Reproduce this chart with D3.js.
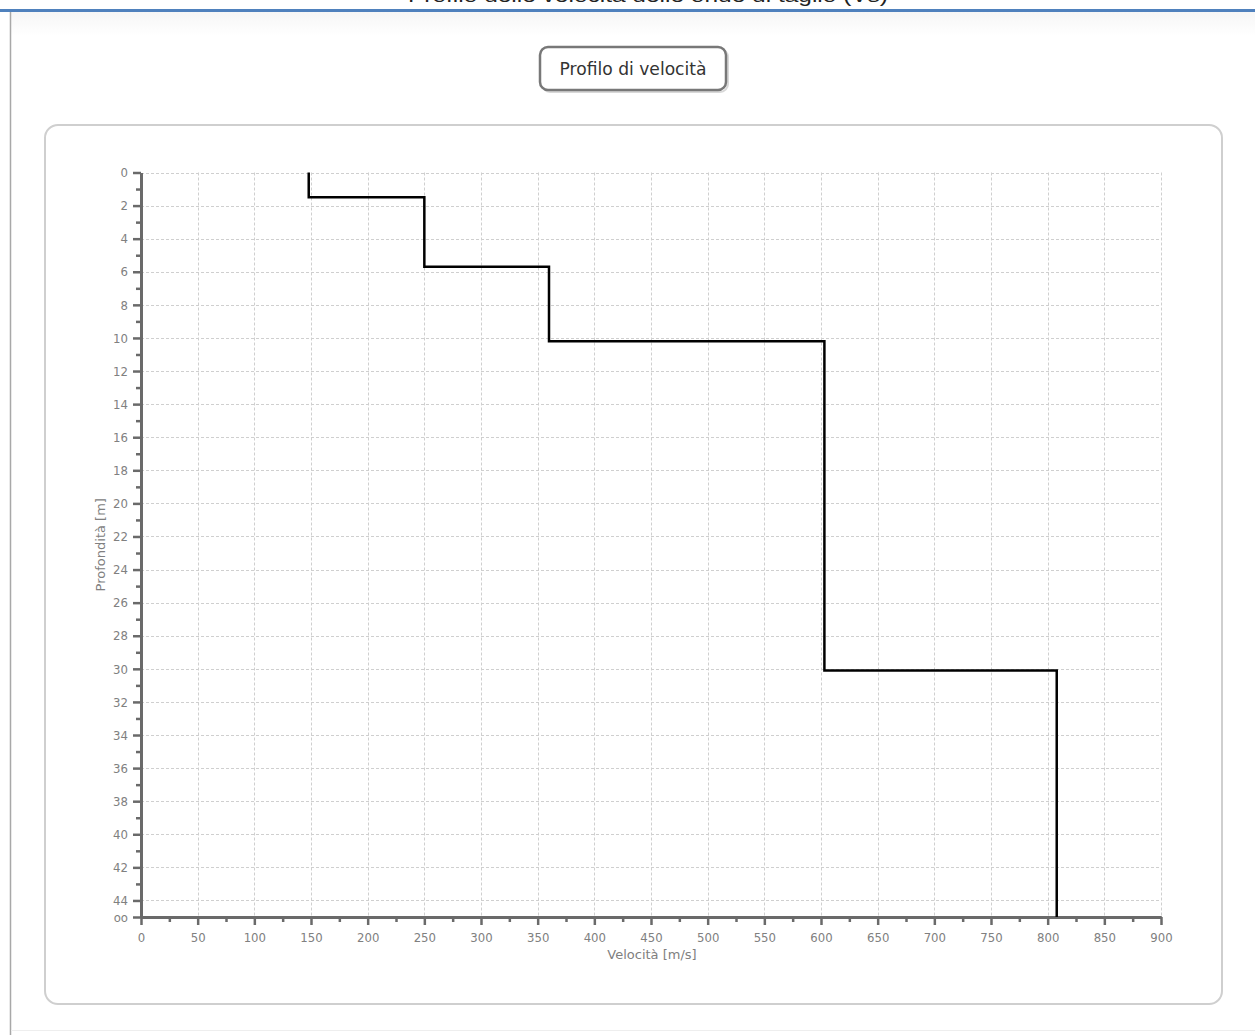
<!DOCTYPE html>
<html>
<head>
<meta charset="utf-8">
<script src="https://cdn.jsdelivr.net/npm/d3@7"></script>
<style>
	html, body { margin: 0; padding: 0; background: #fff; }
	#chart svg { display: block; }
</style>
</head>
<body>
<div id="chart"></div>
<script>
// velocity profile (Vs) - one layer per entry
var velocities  = [148, 250, 360, 603, 808];
var layerTops   = [0, 1.5, 5.7, 10.2, 30.1];
var layerBottom = [1.5, 5.7, 10.2, 30.1, 45];

var xTicks = [0,50,100,150,200,250,300,350,400,450,500,550,600,650,700,750,800,850,900];
var xMinor = [25,75,125,175,225,275,325,375,425,475,525,575,625,675,725,775,825,875];
var yTicks = [0,2,4,6,8,10,12,14,16,18,20,22,24,26,28,30,32,34,36,38,40,42,44];
var yMinor = [1,3,5,7,9,11,13,15,17,19,21,23,25,27,29,31,33,35,37,39,41,43];
var yEndLabel = "oo";

var pageTitle = "Profilo delle velocità delle onde di taglio (Vs)";
var chartTitle = "Profilo di velocità";
var xTitle = "Velocità [m/s]";
var yTitle = "Profondità [m]";

var W = 1255, H = 1035;
var plot = {left: 141, right: 1161, top: 172.5, bottom: 917};

var svg = d3.select("#chart").append("svg")
	.attr("width", W)
	.attr("height", H);

////////////////////////////////////////////////////////////
//////////////////// Page frame ////////////////////////////
////////////////////////////////////////////////////////////

var defs = svg.append("defs");
var fade = defs.append("linearGradient").attr("id", "topFade")
	.attr("x1", 0).attr("y1", 0).attr("x2", 0).attr("y2", 1);
fade.append("stop").attr("offset", "0%").attr("stop-color", "#f6f6f6");
fade.append("stop").attr("offset", "100%").attr("stop-color", "#ffffff");

svg.append("rect")
	.attr("x", 11).attr("y", 12).attr("width", W - 11).attr("height", 24)
	.style("fill", "url(#topFade)");

// heading of the page, cut off by the top edge
svg.append("text")
	.attr("x", 648).attr("y", 2)
	.attr("text-anchor", "middle")
	.attr("textLength", 480)
	.attr("lengthAdjust", "spacingAndGlyphs")
	.style("font-family", "'Liberation Sans', Arial, sans-serif")
	.style("font-size", "18px")
	.style("fill", "#222")
	.text(pageTitle);

svg.append("rect")
	.attr("x", 0).attr("y", 9).attr("width", W).attr("height", 3)
	.style("fill", "#4f81bd");

svg.append("line")
	.attr("x1", 10.5).attr("x2", 10.5).attr("y1", 12).attr("y2", H)
	.style("stroke", "#a8a8a8").style("stroke-width", 1.5);

svg.append("line")
	.attr("x1", 11).attr("x2", W).attr("y1", 1030.5).attr("y2", 1030.5)
	.style("stroke", "#eeeeee").style("stroke-width", 1);

////////////////////////////////////////////////////////////
//////////////////// Title box /////////////////////////////
////////////////////////////////////////////////////////////

svg.append("rect")
	.attr("x", 542).attr("y", 49).attr("width", 186).attr("height", 43)
	.attr("rx", 8).attr("ry", 8)
	.style("fill", "none").style("stroke", "#d8d8d8").style("stroke-width", 2);

svg.append("rect")
	.attr("x", 540).attr("y", 47).attr("width", 186).attr("height", 43)
	.attr("rx", 8).attr("ry", 8)
	.style("fill", "#fff").style("stroke", "#787878").style("stroke-width", 2.5);

svg.append("text")
	.attr("x", 633).attr("y", 75)
	.attr("text-anchor", "middle")
	.attr("textLength", 147)
	.attr("lengthAdjust", "spacingAndGlyphs")
	.style("font-family", "'DejaVu Sans', Verdana, sans-serif")
	.style("font-size", "17px")
	.style("fill", "#333")
	.text(chartTitle);

////////////////////////////////////////////////////////////
//////////////////// Chart panel ///////////////////////////
////////////////////////////////////////////////////////////

svg.append("rect")
	.attr("x", 45).attr("y", 125).attr("width", 1177).attr("height", 879)
	.attr("rx", 13).attr("ry", 13)
	.style("fill", "#fff").style("stroke", "#cfcfcf").style("stroke-width", 2);

////////////////////////////////////////////////////////////
//////////////////// Scales ////////////////////////////////
////////////////////////////////////////////////////////////

var x = d3.scaleLinear().domain([0, 900]).range([plot.left, plot.right]);
var y = d3.scaleLinear().domain([0, 45]).range([plot.top, plot.bottom]);

// grid
var grid = svg.append("g").attr("class", "grid")
	.style("stroke", "#cfcfcf").style("stroke-width", 1).style("stroke-dasharray", "3,2");

grid.selectAll("line.v")
	.data(xTicks.slice(1))
	.enter().append("line")
	.attr("class", "v")
	.attr("x1", function(d) { return Math.round(x(d)) + 0.5; })
	.attr("x2", function(d) { return Math.round(x(d)) + 0.5; })
	.attr("y1", plot.top).attr("y2", plot.bottom);

grid.selectAll("line.h")
	.data(yTicks)
	.enter().append("line")
	.attr("class", "h")
	.attr("y1", function(d) { return Math.round(y(d)) + 0.5; })
	.attr("y2", function(d) { return Math.round(y(d)) + 0.5; })
	.attr("x1", plot.left).attr("x2", plot.right);

////////////////////////////////////////////////////////////
//////////////////// Axes //////////////////////////////////
////////////////////////////////////////////////////////////

var axisColor = "#6a6a6a", labelColor = "#808080";
var fontFam = "'DejaVu Sans Condensed', 'DejaVu Sans', Verdana, sans-serif";
var titleFam = "'DejaVu Sans', Verdana, sans-serif";

function styleAxis(g) {
	g.select(".domain").style("stroke", axisColor).style("stroke-width", 3);
	g.selectAll(".tick line").style("stroke", axisColor).style("stroke-width", 2.5);
	g.selectAll(".tick text")
		.style("fill", labelColor)
		.style("font-family", fontFam)
		.style("font-stretch", "condensed")
		.style("font-size", "13px");
}

svg.append("g")
	.attr("transform", "translate(0," + plot.bottom + ")")
	.call(d3.axisBottom(x).tickValues(xMinor).tickSize(5).tickSizeOuter(0).tickFormat(""))
	.call(styleAxis);

svg.append("g")
	.attr("transform", "translate(" + plot.left + ",0)")
	.call(d3.axisLeft(y).tickValues(yMinor).tickSize(5).tickSizeOuter(0).tickFormat(""))
	.call(styleAxis);

svg.append("g")
	.attr("transform", "translate(0," + plot.bottom + ")")
	.call(d3.axisBottom(x).tickValues(xTicks).tickSize(8).tickSizeOuter(0).tickPadding(8))
	.call(styleAxis);

svg.append("g")
	.attr("transform", "translate(" + plot.left + ",0)")
	.call(d3.axisLeft(y).tickValues(yTicks.concat([45])).tickSize(8).tickSizeOuter(0).tickPadding(5)
		.tickFormat(function(d) { return d === 45 ? yEndLabel : d; }))
	.call(styleAxis);

// axis titles
svg.append("text")
	.attr("x", 652).attr("y", 959)
	.attr("text-anchor", "middle")
	.style("font-family", titleFam)
	.style("font-size", "13px").style("fill", labelColor)
	.text(xTitle);

svg.append("text")
	.attr("transform", "translate(105," + ((plot.top + plot.bottom) / 2) + ")rotate(-90)")
	.attr("text-anchor", "middle")
	.style("font-family", titleFam)
	.style("font-size", "13px").style("fill", labelColor)
	.text(yTitle);

////////////////////////////////////////////////////////////
//////////////////// Step profile //////////////////////////
////////////////////////////////////////////////////////////

var pts = [];
velocities.forEach(function(v, i) {
	pts.push([v, layerTops[i]]);
	pts.push([v, layerBottom[i]]);
});

var line = d3.line()
	.x(function(d) { return x(d[0]); })
	.y(function(d) { return y(d[1]); });

svg.append("path")
	.datum(pts)
	.attr("d", line)
	.style("fill", "none")
	.style("stroke", "#000")
	.style("stroke-width", 2.5)
	.style("stroke-linejoin", "miter");
</script>
</body>
</html>
